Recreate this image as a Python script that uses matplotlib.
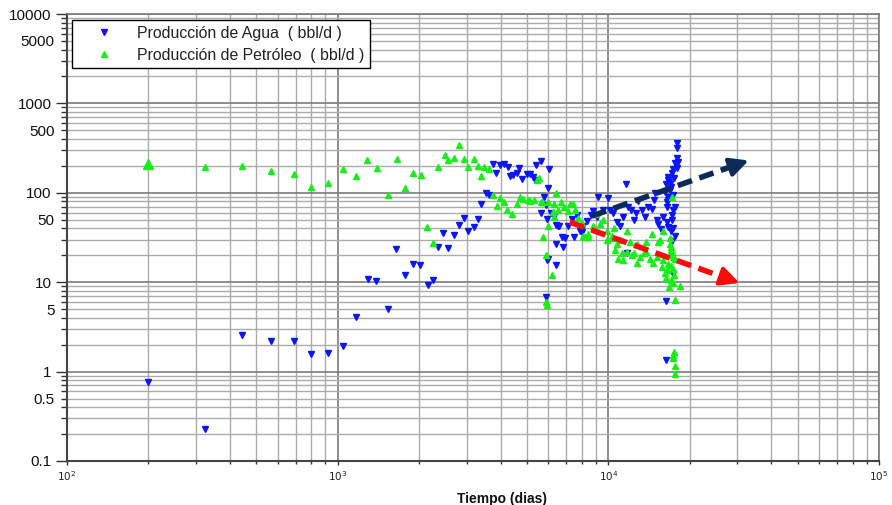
import numpy as np
import matplotlib
matplotlib.use("Agg")
import matplotlib.pyplot as plt
from matplotlib.ticker import FixedLocator, FixedFormatter, NullFormatter, LogLocator
from matplotlib.lines import Line2D

plt.rcParams['font.family'] = ['Liberation Sans', 'DejaVu Sans']

# ---- data ----
agua_t = [200, 323, 443, 567, 690, 797, 921, 1047, 1169, 1290, 1380, 1535, 1640, 1773, 1899,
          2014, 2157, 2250, 2349, 2460, 2553, 2690, 2800, 2920, 3040, 3180, 3290, 3390, 3540,
          3620, 3750, 3840, 3980, 4130, 4270, 4330, 4460, 4590, 4660, 4810, 4990, 5150, 5290,
          5360, 5400, 5630, 5660, 5780, 5880, 5880, 5930, 5980, 6010, 6060, 6130, 6320, 6380,
          6380, 6430, 5930, 6500, 6560, 6750, 6810, 6940, 7070, 7310, 7450, 7660, 7880, 8000,
          8090, 8370, 8600, 8810, 9090, 9170, 9530, 10000, 10100, 10400, 10800, 11000, 11300,
          11600, 11700, 11800, 12100, 12400, 12600, 12900, 13300, 13700, 14000, 14500, 14700,
          14900, 15100, 15300, 15600, 15900, 16200, 16300, 16300, 16400, 16500, 16500, 16600,
          16600, 16600, 16600, 16900, 17000, 17200, 17200, 17200, 17300, 17300, 17300, 17700,
          17700, 17700, 18000, 18000, 18000, 18100, 17900, 17500, 16700, 17000, 16900, 17400,
          16600, 17200, 16500, 17400]
agua_q = [0.77, 0.23, 2.57, 2.2, 2.2, 1.57, 1.6, 1.93, 4.1, 10.9, 10.3, 5.0, 23.5, 12, 16,
          15.5, 9.3, 10.6, 24.8, 35.5, 24, 33.7, 43.6, 52, 37.4, 41, 51, 75, 100,
          95, 210, 166, 205, 210, 194, 154, 160, 166, 188, 143, 162, 162, 150,
          139, 205, 226, 59, 89.7, 73, 6.8, 17.7, 18.4, 113, 185, 59, 55, 43.5,
          26.5, 15.6, 51, 42, 42, 32, 25, 31, 43, 51, 32, 57, 37, 36,
          42, 48, 57, 62, 54, 90, 65, 87, 65, 59, 47, 43, 54,
          124, 21, 70, 65, 49, 59, 81, 65, 54, 70, 66, 83,
          100, 49, 45, 39, 54, 101, 6.2, 1.35, 124, 70, 78, 90,
          139, 150, 41, 124, 37, 166, 49, 29, 185, 65, 12.5, 214,
          70, 33, 247, 320, 360, 220, 190, 147, 133, 116, 107, 95,
          83, 57, 47, 40]

petroleo_t = [200, 323, 443, 567, 690, 797, 921, 1047, 1169, 1282, 1397, 1535, 1657, 1773, 1899,
              2030, 2140, 2250, 2350, 2490, 2550, 2690, 2810, 2920, 3040, 3180, 3290, 3390, 3480,
              3620, 3750, 3880, 3980, 4130, 4230, 4390, 4590, 4700, 4850, 5030, 5150, 5320, 5460,
              5560, 5640, 5700, 5730, 5880, 5880, 5930, 6010, 6010, 6190, 6250, 6320, 6320, 6430,
              6500, 6700, 6880, 7070, 7190, 7380, 7520, 7740, 8000, 8090, 8210, 8440, 8440, 8800,
              9000, 9300, 9530, 9850, 9850, 10300, 10300, 10500, 10600, 10800, 10900, 11000, 11200,
              11300, 11700, 11700, 12000, 12200, 12400, 12800, 12800, 13100, 13500, 13800, 13800,
              14200, 14500, 14600, 15100, 15300, 15500, 15800, 15900, 15900, 16200, 16300, 16500,
              16600, 16900, 16900, 17200, 17200, 16900, 17300, 17700, 17700, 18400, 17000, 17100,
              17400, 17000, 17300, 17500, 17100, 16800, 17300, 17500, 17300, 17600, 17600]
petroleo_q = [210, 195, 200, 175, 162, 116, 129, 185, 154, 233, 189, 94.5, 239, 113, 167,
              160, 41, 27.4, 194, 265, 230, 247, 340, 238, 194, 238, 197, 155, 194,
              185, 95, 71, 87, 79, 65, 58, 74, 90, 86, 83, 81, 83, 140,
              145, 79, 79, 32, 19.9, 6.0, 5.5, 42, 79, 12, 61, 75, 54, 100,
              64, 79, 70, 62, 74, 75, 65, 52, 46, 33, 32, 32, 35, 43,
              58, 45, 49, 37, 30, 31, 33, 40, 23, 27, 18.3, 30, 21,
              17.5, 37, 22, 28, 20, 21, 27, 16.5, 19, 21, 28, 22,
              18.3, 35, 16.5, 19, 28, 30, 14.8, 37, 17.5, 12.6, 11, 13.6,
              16, 31, 20, 22, 90, 27, 9.8, 18, 6.3, 9.0, 25, 23,
              19, 15, 14, 12, 10.5, 8.8, 1.55, 1.66, 1.43, 1.16, 0.94]

# trend arrows (start, end) in data units
agua_trend_t = [8700, 33000]
agua_trend_q = [55, 230]
petroleo_trend_t = [7200, 30500]
petroleo_trend_q = [47, 9.8]

y_tick_vals = [0.1, 1, 10, 100, 1000, 10000]
y_tick_labels = ['0.1', '1', '10', '100', '1000', '10000']
y_minor_label_vals = [0.5, 5, 50, 500, 5000]
y_minor_labels = ['0.5', '5', '50', '500', '5000']
x_tick_vals = [1e2, 1e3, 1e4, 1e5]
x_tick_labels = [r'$10^2$', r'$10^3$', r'$10^4$', r'$10^5$']

AGUA_C = '#0a14ff'
PETRO_C = '#16f016'
MS = 4.4

# ---- figure ----
fig = plt.figure(figsize=(8.92, 5.05), dpi=100)
ax = fig.add_axes([67/892, 1-461/505, (879-67)/892, (461-14)/505])
ax.set_xscale('log')
ax.set_yscale('log')
ax.set_xlim(1e2, 1e5)
ax.set_ylim(0.1, 1e4)

# grid
ax.grid(True, which='major', color='#7a7a7a', lw=1.2, zorder=0)
ax.grid(True, which='minor', color='#ababab', lw=1.0, zorder=0)
ax.set_axisbelow(True)

# data
ax.plot(agua_t, agua_q, ls='none', marker='v', ms=MS, color=AGUA_C, mec=AGUA_C, zorder=3)
ax.plot(petroleo_t, petroleo_q, ls='none', marker='^', ms=MS, color=PETRO_C, mec=PETRO_C, zorder=3)
# first oil point is drawn larger in the reference
ax.plot(petroleo_t[:1], petroleo_q[:1], ls='none', marker='^', ms=6.5, color=PETRO_C,
        mec=PETRO_C, zorder=3)

# trend arrows
def trend(tt, qq, color):
    lt = np.log10(tt)
    lq = np.log10(qq)
    frac = 0.92
    mid_t = 10 ** (lt[0] + frac * (lt[1] - lt[0]))
    mid_q = 10 ** (lq[0] + frac * (lq[1] - lq[0]))
    ax.plot([tt[0], mid_t], [qq[0], mid_q], color=color, lw=4, ls=(0, (2.7, 1.4)),
            solid_capstyle='butt', dash_capstyle='butt', zorder=4)
    ax.annotate('', xy=(tt[1], qq[1]), xytext=(mid_t, mid_q),
                arrowprops=dict(arrowstyle='-|>,head_length=0.8,head_width=0.4',
                                color=color, lw=3, shrinkA=0, shrinkB=0,
                                mutation_scale=14), zorder=4)

trend(agua_trend_t, agua_trend_q, '#0b2a58')
trend(petroleo_trend_t, petroleo_trend_q, '#ff0a0a')

# ticks
ax.yaxis.set_major_locator(FixedLocator(y_tick_vals))
ax.yaxis.set_major_formatter(FixedFormatter(y_tick_labels))
minor_vals = [m * 10.0 ** e for e in range(-1, 4) for m in range(2, 10)]
minor_labels = []
for v in minor_vals:
    lab = ''
    for mv, ml in zip(y_minor_label_vals, y_minor_labels):
        if abs(v - mv) / mv < 1e-6:
            lab = ml
    minor_labels.append(lab)
ax.yaxis.set_minor_locator(FixedLocator(minor_vals))
ax.yaxis.set_minor_formatter(FixedFormatter(minor_labels))
ax.tick_params(axis='y', which='major', length=8, width=1, color='#333333',
               labelsize=11, labelcolor='#111111', pad=3)
ax.tick_params(axis='y', which='minor', length=4, width=1, color='#333333',
               labelsize=11, labelcolor='#111111', pad=5)

ax.xaxis.set_major_locator(FixedLocator(x_tick_vals))
ax.xaxis.set_major_formatter(FixedFormatter(x_tick_labels))
ax.xaxis.set_minor_locator(LogLocator(base=10, subs=np.arange(2, 10)))
ax.xaxis.set_minor_formatter(NullFormatter())
ax.tick_params(axis='x', which='major', length=3, width=1, color='#333333',
               labelsize=7.5, labelcolor='#222222', pad=3)
ax.tick_params(axis='x', which='minor', length=2, width=1, color='#333333')

for s in ['left', 'bottom']:
    ax.spines[s].set_color('#444444')
    ax.spines[s].set_linewidth(1.5)
for s in ['top', 'right']:
    ax.spines[s].set_color('#7a7a7a')
    ax.spines[s].set_linewidth(1.2)

ax.set_xlabel('Tiempo (dias)', fontsize=10, fontweight='bold', color='#111111')
ax.xaxis.set_label_coords((502-67)/812, -0.069)

# legend
handles = [Line2D([], [], ls='none', marker='v', ms=MS, color=AGUA_C),
           Line2D([], [], ls='none', marker='^', ms=MS, color=PETRO_C)]
leg = ax.legend(handles, ['Producción de Agua  ( bbl/d )', 'Producción de Petróleo  ( bbl/d )'],
                loc='upper left', bbox_to_anchor=(5/812, 1-6/447), fontsize=11.4,
                frameon=True, fancybox=False, framealpha=1, edgecolor='black',
                borderpad=0.35, labelspacing=0.45, handletextpad=0.45, handlelength=3.3,
                borderaxespad=0)
leg.get_frame().set_linewidth(1.0)
for t in leg.get_texts():
    t.set_color('#222222')

fig.savefig('out.png', dpi=100)
